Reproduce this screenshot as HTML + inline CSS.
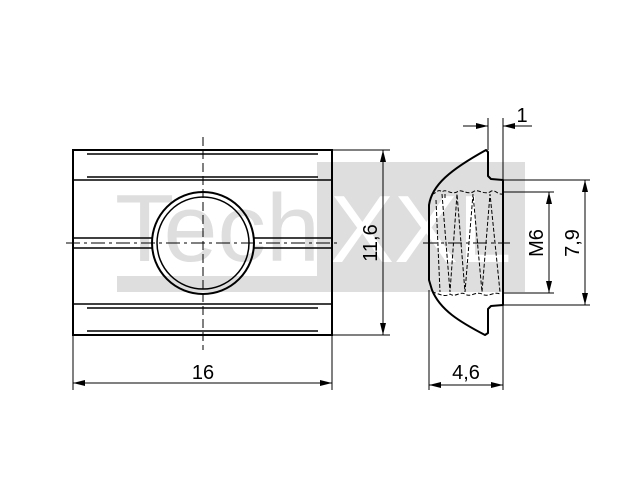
<!DOCTYPE html>
<html><head><style>body{margin:0;background:#fff}svg{display:block}</style></head><body>
<svg width="640" height="480" viewBox="0 0 640 480" xmlns="http://www.w3.org/2000/svg" font-family="Liberation Sans, sans-serif">
<defs>
<marker id="a" markerWidth="12" markerHeight="6" refX="12" refY="3" orient="auto-start-reverse" markerUnits="userSpaceOnUse"><path d="M0,0 L12,3 L0,6 z" fill="#000"/></marker>
<clipPath id="wc"><rect x="317" y="162" width="208" height="130"/></clipPath>
</defs>
<rect x="317" y="162" width="208" height="130" fill="#dedede"/>
<rect x="117" y="276" width="200" height="16" fill="#dedede"/>
<text x="115" y="261" font-size="96" fill="#dedede" textLength="205" lengthAdjust="spacingAndGlyphs">Tech</text>
<g clip-path="url(#wc)"><text x="330" y="262" font-size="96" fill="#fff">XXL</text></g>

<g stroke="#000" fill="none">
<rect x="73" y="150" width="259" height="185" stroke-width="2"/>
<g stroke-width="1.5">
<line x1="87" y1="154" x2="318" y2="154"/>
<line x1="87" y1="177" x2="318" y2="177"/>
<line x1="73" y1="180" x2="332" y2="180"/>
<line x1="73" y1="304" x2="332" y2="304"/>
<line x1="87" y1="308" x2="318" y2="308"/>
<line x1="87" y1="331" x2="318" y2="331"/>
<line x1="73" y1="238" x2="153" y2="238"/>
<line x1="73" y1="248" x2="153" y2="248"/>
<line x1="253" y1="238" x2="332" y2="238"/>
<line x1="253" y1="248" x2="332" y2="248"/>
<circle cx="203" cy="243" r="51" stroke-width="2"/>
<circle cx="203" cy="243" r="46"/>
</g>
<line x1="203" y1="137" x2="203" y2="350" stroke-dasharray="9,4"/>
<line x1="66" y1="243" x2="340" y2="243" stroke-dasharray="14,4,3,4"/>
<g stroke-width="1">
<line x1="332" y1="150" x2="390" y2="150"/>
<line x1="332" y1="335" x2="390" y2="335"/>
<line x1="383" y1="150" x2="383" y2="335" marker-start="url(#a)" marker-end="url(#a)"/>
<line x1="73" y1="335" x2="73" y2="390"/>
<line x1="332" y1="335" x2="332" y2="390"/>
<line x1="73" y1="383" x2="332" y2="383" marker-start="url(#a)" marker-end="url(#a)"/>
</g>
<path d="M486,150 L488,152 L488,176 L491,179 L503,180 L503,305 L491,306 L488,309 L488,333 L485,335 C460,322 440,310 432,290 L429,280 L429,205 C432,185 450,170 486,150 Z" stroke-width="2" stroke-linejoin="round"/>
<g stroke-width="1" stroke-dasharray="4,2">
<path d="M432,194 C436,194 438,188 442,192 C446,188 450,195 457,192 C461,188 466,195 473,192 C477,188 483,195 490,192 C494,188 498,195 502,194"/>
<path d="M432,292 C438,293 444,298 450,294 C455,298 460,291 465,294 C470,298 476,291 482,294 C488,298 494,291 500,294"/>
<path d="M442,194 L450,292 L457,194 L465,292 L473,194 L482,292 L490,194 L500,292"/>
<path d="M436,200 L440,292 M445,194 L445,200"/>
</g>
<line x1="423" y1="243" x2="510" y2="243" stroke-dasharray="14,4,3,4"/>
<g stroke-width="1">
<line x1="488" y1="118" x2="488" y2="150"/>
<line x1="503" y1="118" x2="503" y2="180"/>
<line x1="463" y1="126" x2="488" y2="126" marker-end="url(#a)"/>
<line x1="532" y1="126" x2="503" y2="126" marker-end="url(#a)"/>
<line x1="503" y1="192" x2="554" y2="192"/>
<line x1="503" y1="293" x2="554" y2="293"/>
<line x1="549" y1="192" x2="549" y2="293" marker-start="url(#a)" marker-end="url(#a)"/>
<line x1="503" y1="180" x2="590" y2="180"/>
<line x1="503" y1="305" x2="590" y2="305"/>
<line x1="585" y1="180" x2="585" y2="305" marker-start="url(#a)" marker-end="url(#a)"/>
<line x1="429" y1="290" x2="429" y2="390"/>
<line x1="503" y1="305" x2="503" y2="390"/>
<line x1="429" y1="385" x2="503" y2="385" marker-start="url(#a)" marker-end="url(#a)"/>
</g>
</g>
<g font-size="20" fill="#000" text-anchor="middle">
<text x="203" y="379">16</text>
<text x="466" y="379">4,6</text>
<text x="522" y="122">1</text>
<text transform="translate(377,243) rotate(-90)">11,6</text>
<text transform="translate(543,243) rotate(-90)">M6</text>
<text transform="translate(579,243) rotate(-90)">7,9</text>
</g>
</svg>
</body></html>
